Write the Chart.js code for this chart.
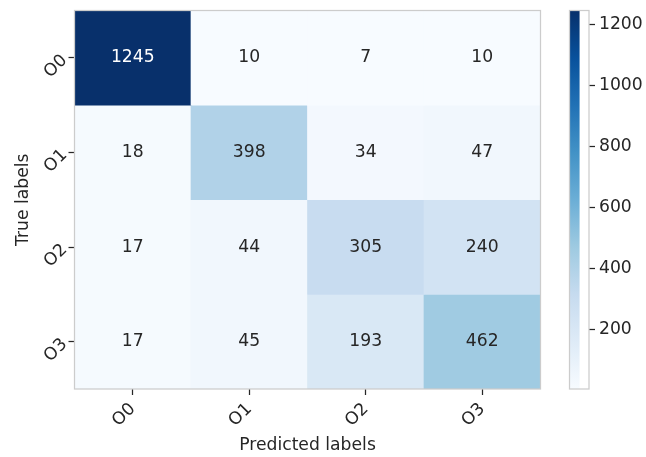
<!DOCTYPE html>
<html>
<head>
<meta charset="utf-8">
<script src="https://cdn.jsdelivr.net/npm/chart.js@4/dist/chart.umd.min.js"></script>
<style>
  html, body { margin: 0; padding: 0; background: #ffffff; }
  #wrap { position: relative; width: 646px; height: 457px; }
  #heat { position: absolute; left: 0; top: 0; }
  #cbar { position: absolute; left: 560px; top: 0; }
</style>
</head>
<body>
<div id="wrap">
  <canvas id="heat" width="646" height="457"></canvas>
  <canvas id="cbar" width="86" height="457"></canvas>
</div>
<script>
// Confusion matrix: rows are true labels, columns are predicted labels
const predictedLabels = ['O0', 'O1', 'O2', 'O3'];
const trueLabels = ['O0', 'O1', 'O2', 'O3'];
const rowO0 = [1245, 10, 7, 10];
const rowO1 = [18, 398, 34, 47];
const rowO2 = [17, 44, 305, 240];
const rowO3 = [17, 45, 193, 462];
const matrix = [rowO0, rowO1, rowO2, rowO3];
const colorbarTicks = [200, 400, 600, 800, 1000, 1200];

const FONT = 'DejaVu Sans';
const FS = 17.2;
const INK = '#262626';
const SPINE = '#cccccc';

const vmin = Math.min(...matrix.flat());
const vmax = Math.max(...matrix.flat());

// "Blues" sequential colormap
const BLUES = ['#f7fbff', '#deebf7', '#c6dbef', '#9ecae1', '#6baed6',
               '#4292c6', '#2171b5', '#08519c', '#08306b'];
function hexToRgb(h) {
  return [parseInt(h.slice(1, 3), 16), parseInt(h.slice(3, 5), 16), parseInt(h.slice(5, 7), 16)];
}
function bluesRgb(t) {
  t = Math.max(0, Math.min(1, t));
  const p = t * (BLUES.length - 1);
  const i = Math.min(Math.floor(p), BLUES.length - 2);
  const f = p - i;
  const a = hexToRgb(BLUES[i]), b = hexToRgb(BLUES[i + 1]);
  return a.map((c, k) => Math.round(c + (b[k] - c) * f));
}
function colorFor(v) {
  const [r, g, b] = bluesRgb((v - vmin) / (vmax - vmin));
  return `rgb(${r},${g},${b})`;
}
function textColorFor(v) {
  const lin = bluesRgb((v - vmin) / (vmax - vmin)).map(c => {
    c /= 255;
    return c <= 0.03928 ? c / 12.92 : Math.pow((c + 0.055) / 1.055, 2.4);
  });
  const lum = 0.2126 * lin[0] + 0.7152 * lin[1] + 0.0722 * lin[2];
  return lum > 0.408 ? INK : '#ffffff';
}

// Each true-label row is one dataset of floating bars spanning [r-0.5, r+0.5]
const datasets = matrix.map((row, r) => ({
  label: trueLabels[r],
  data: row.map(() => [r - 0.5, r + 0.5]),
  values: row,
  backgroundColor: row.map(colorFor),
  borderWidth: 0,
  barPercentage: 1.0,
  categoryPercentage: 1.0,
  grouped: false
}));

const frame = {
  id: 'frame',
  afterDatasetsDraw(chart) {
    const { ctx, chartArea: a } = chart;
    ctx.save();
    ctx.strokeStyle = SPINE;
    ctx.lineWidth = 1.25;
    ctx.strokeRect(a.left, a.top, a.right - a.left, a.bottom - a.top);
    ctx.restore();
  }
};

const cellText = {
  id: 'cellText',
  afterDatasetsDraw(chart) {
    const { ctx } = chart;
    ctx.save();
    ctx.font = `${FS}px "${FONT}"`;
    ctx.textAlign = 'center';
    ctx.textBaseline = 'middle';
    chart.data.datasets.forEach((ds, di) => {
      chart.getDatasetMeta(di).data.forEach((el, j) => {
        const v = ds.values[j];
        const c = el.getCenterPoint();
        ctx.fillStyle = textColorFor(v);
        ctx.fillText(String(v), c.x, c.y);
      });
    });
    ctx.restore();
  }
};

const tickFont = { family: FONT, size: FS };

// keep the plot area fixed: no extra room for overhanging tick labels
function noOverhang(scale) {
  scale.paddingTop = 0;
  scale.paddingBottom = 0;
  scale.paddingLeft = 0;
  scale.paddingRight = 0;
}

new Chart(document.getElementById('heat'), {
  type: 'bar',
  data: { labels: predictedLabels, datasets },
  options: {
    responsive: false,
    animation: false,
    layout: { padding: { left: 0, top: 10.5, right: 105.5, bottom: 0 } },
    plugins: { legend: { display: false }, tooltip: { enabled: false } },
    scales: {
      x: {
        type: 'category',
        offset: true,
        grid: { display: true, offset: false, drawOnChartArea: false, drawTicks: true,
                tickLength: 6, tickColor: INK, tickWidth: 1.25 },
        border: { display: false },
        ticks: { font: tickFont, color: INK, minRotation: 45, maxRotation: 45, padding: 4 },
        title: { display: true, text: 'Predicted labels', font: tickFont, color: INK,
                 padding: { top: 0, bottom: 1 } },
        afterFit(scale) { scale.height = 68; noOverhang(scale); }
      },
      y: {
        type: 'linear',
        reverse: true,
        min: -0.5,
        max: 3.5,
        afterBuildTicks(scale) { scale.ticks = trueLabels.map((_, i) => ({ value: i })); },
        grid: { display: true, drawOnChartArea: false, drawTicks: true,
                tickLength: 6, tickColor: INK, tickWidth: 1.25 },
        border: { display: false },
        ticks: { font: tickFont, color: INK, minRotation: 45, maxRotation: 45, padding: 4,
                 callback: (v) => trueLabels[v] },
        title: { display: true, text: 'True labels', font: tickFont, color: INK,
                 padding: { top: 13, bottom: 0 } },
        afterFit(scale) { scale.width = 74.5; noOverhang(scale); }
      }
    }
  },
  plugins: [frame, cellText]
});

// Colour bar: one floating bar from the smallest to the largest count, filled with the colormap
new Chart(document.getElementById('cbar'), {
  type: 'bar',
  data: {
    labels: [''],
    datasets: [{
      data: [[vmin, vmax]],
      borderWidth: 0,
      barPercentage: 1.0,
      categoryPercentage: 1.0,
      backgroundColor(ctx) {
        const { chart } = ctx;
        const a = chart.chartArea;
        if (!a) return BLUES[4];
        const y = chart.scales.y;
        const g = chart.ctx.createLinearGradient(0, y.getPixelForValue(vmin), 0, y.getPixelForValue(vmax));
        BLUES.forEach((c, i) => g.addColorStop(i / (BLUES.length - 1), c));
        return g;
      }
    }]
  },
  options: {
    responsive: false,
    animation: false,
    layout: { padding: { left: 9.5, top: 10.5, right: 0, bottom: 68 } },
    plugins: { legend: { display: false }, tooltip: { enabled: false } },
    scales: {
      x: { display: false, offset: false },
      y: {
        position: 'right',
        min: vmin,
        max: vmax,
        afterBuildTicks(scale) { scale.ticks = colorbarTicks.map(v => ({ value: v })); },
        grid: { display: true, drawOnChartArea: false, drawTicks: true,
                tickLength: 6, tickColor: INK, tickWidth: 1.25 },
        border: { display: false },
        ticks: { font: tickFont, color: INK, padding: 4, callback: (v) => String(v) },
        afterFit(scale) { scale.width = 57; noOverhang(scale); }
      }
    }
  },
  plugins: [frame]
});
</script>
</body>
</html>
